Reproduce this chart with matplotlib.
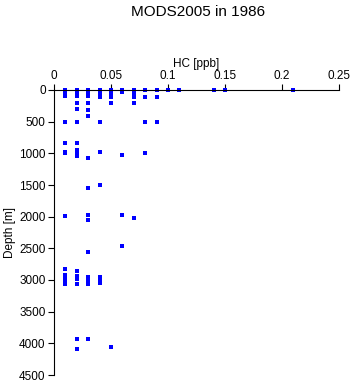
import matplotlib
matplotlib.use("Agg")
import matplotlib.pyplot as plt

# HC concentration (ppb) and sample depth (m)
hc = [0.01, 0.01, 0.01, 0.01, 0.01, 0.01, 0.01,
      0.02, 0.02, 0.02, 0.02, 0.02, 0.02, 0.02, 0.02, 0.02, 0.02, 0.02, 0.02,
      0.03, 0.03, 0.03, 0.03, 0.03, 0.03, 0.03, 0.03,
      0.04, 0.04, 0.04, 0.04, 0.04,
      0.05, 0.05, 0.05, 0.05,
      0.06, 0.06, 0.06,
      0.07, 0.07, 0.07, 0.07,
      0.08, 0.08, 0.08, 0.08,
      0.09, 0.09, 0.09,
      0.10, 0.11, 0.14, 0.15, 0.21,
      # 1500 - 2600 m
      0.01, 0.03, 0.03, 0.03, 0.03, 0.04, 0.06, 0.06, 0.07,
      # 2800 - 3100 m
      0.01, 0.01, 0.01, 0.01, 0.01, 0.01,
      0.02, 0.02, 0.02, 0.02, 0.02,
      0.03, 0.03, 0.03, 0.03,
      0.04, 0.04, 0.04,
      # deep
      0.02, 0.02, 0.03, 0.05]
depth = [5, 50, 100, 500, 830, 980, 1000,
         5, 30, 60, 100, 210, 300, 500, 830, 940, 980, 1010, 1040,
         5, 40, 100, 200, 310, 410, 1080, 1080,
         5, 40, 110, 500, 985,
         5, 40, 110, 200,
         5, 30, 1020,
         5, 40, 110, 200,
         5, 110, 500, 1000,
         5, 110, 500,
         0, 5, 5, 5, 5,
         1990, 1540, 1975, 2055, 2560, 1495, 1975, 2470, 2025,
         2830, 2920, 2950, 2975, 3010, 3060,
         2850, 2930, 2960, 2990, 3070,
         2960, 3000, 3050, 3070,
         2960, 2990, 3050,
         3925, 4095, 3925, 4055]

xticks = [0, 0.05, 0.1, 0.15, 0.2, 0.25]
xticklabels = ["0", "0.05", "0.1", "0.15", "0.2", "0.25"]
yticks = [0, 500, 1000, 1500, 2000, 2500, 3000, 3500, 4000, 4500]

plt.rcParams['font.family'] = ['Liberation Sans', 'DejaVu Sans']
fig = plt.figure(figsize=(3.53, 3.84), dpi=100)
ax = fig.add_axes([54/353, 1 - 375/384, 285/353, 285/384])

ax.plot(hc, depth, 's', color='#0000ff', markersize=2.5, markeredgewidth=0,
        clip_on=False)

ax.set_xlim(0, 0.25)
ax.set_ylim(4500, 0)
ax.xaxis.tick_top()
ax.xaxis.set_label_position('top')
ax.set_xticks(xticks)
ax.set_xticklabels(xticklabels)
ax.set_yticks(yticks)
ax.set_xlabel('HC [ppb]', fontsize=8.5, labelpad=2)
ax.set_ylabel('Depth [m]', fontsize=8.5, labelpad=2)
ax.tick_params(labelsize=8.5, length=4, width=0.8, direction='out', pad=2)
for s in ['right', 'bottom']:
    ax.spines[s].set_visible(False)
ax.spines['left'].set_linewidth(0.8)
ax.spines['top'].set_linewidth(0.8)

fig.text(198/353, 1 - 12/384, 'MODS2005 in 1986', ha='center', va='center',
         fontsize=11)

fig.savefig('out.png', dpi=100)
